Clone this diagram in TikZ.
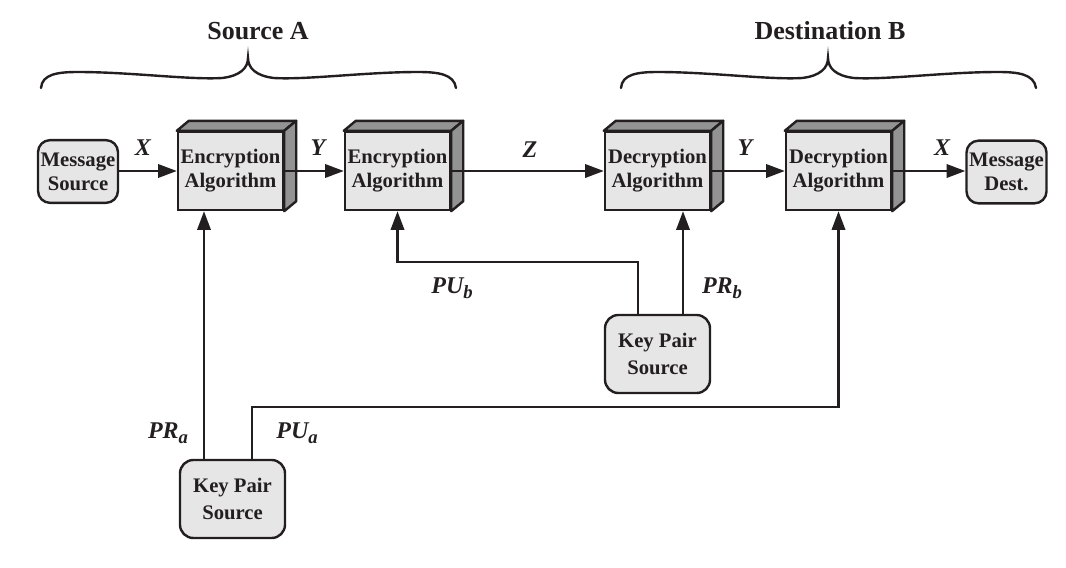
\documentclass[tikz,border=0pt]{standalone}
\usepackage{fontspec}
\setmainfont{Liberation Serif}
\usetikzlibrary{arrows.meta,calc}
\definecolor{frontgray}{HTML}{E6E6E6}
\definecolor{sidegray}{HTML}{939393}
\definecolor{ink}{HTML}{231F20}
\newcommand\subx[1]{\raisebox{-0.45ex}{\fontsize{14}{14}\selectfont #1}}
\tikzset{
  algbox/.style={draw=ink, line width=1.8pt, fill=frontgray, minimum width=78.75pt, minimum height=58.5pt, inner sep=0pt, align=center, font=\fontsize{15.5}{18}\selectfont\bfseries, text=ink},
  srcbox/.style={draw=ink, line width=1.8pt, fill=frontgray, rounded corners=9pt, minimum width=60pt, minimum height=47pt, inner sep=0pt, align=center, font=\fontsize{15.5}{18}\selectfont\bfseries, text=ink},
  keybox/.style={draw=ink, line width=1.8pt, fill=frontgray, rounded corners=10pt, minimum width=78.75pt, minimum height=58.5pt, inner sep=0pt, align=center, font=\fontsize{15.5}{20}\selectfont\bfseries, text=ink},
  face/.style={draw=ink, line width=1.8pt, fill=sidegray, line join=round},
  arr/.style={draw=ink, line width=1.8pt, -{Triangle[length=14pt,width=10pt]}},
  lbl/.style={font=\fontsize{18}{20}\selectfont\bfseries\itshape, text=ink, inner sep=0pt},
  ttl/.style={font=\fontsize{19.5}{22}\selectfont\bfseries, text=ink, inner sep=0pt},
  brace/.style={draw=ink, line width=1.8pt, line cap=round}
}
\newcommand\cubefaces[1]{%
  \path[face] (#1.north west) -- ++(12,-10) -- ($(#1.north east)+(12,-10)$) -- (#1.north east) -- cycle;
  \path[face] (#1.north east) -- ++(12,-10) -- ($(#1.south east)+(12,-10)$) -- (#1.south east) -- cycle;
}
\newcommand\bracepath[1]{%
  \draw[brace,shift={(#1,0)}] (41,88) .. controls (42,74) and (58,72) .. (78,72)
    .. controls (130,72) and (190,80) .. (222,78)
    .. controls (240,76) and (248,68) .. (248,58)
    .. controls (248,68) and (256,76) .. (274,78)
    .. controls (306,80) and (366,72) .. (418,72)
    .. controls (438,72) and (454,74) .. (456,88);
}
\begin{document}
\begin{tikzpicture}[x=0.75pt,y=-0.75pt]
\useasboundingbox (0,0) rectangle (1066,567);

% titles and braces
\node[ttl] (tA) at (258,31) {Source A};
\node[ttl] (tB) at (830,31) {Destination B};
\bracepath{0}
\bracepath{580}

% nodes
\node[srcbox] (msrc) at (78,171.5) {Message\\Source};
\node[algbox] (enc1) at (230.5,171) {Encryption\\Algorithm};
\node[algbox] (enc2) at (397.5,171) {Encryption\\Algorithm};
\node[algbox] (dec1) at (657.5,171) {Decryption\\Algorithm};
\node[algbox] (dec2) at (838.5,171) {Decryption\\Algorithm};
\node[srcbox] (mdst) at (1006.5,172) {Message\\Dest.};
\node[keybox] (kpa) at (232.5,499) {Key Pair\\Source};
\node[keybox] (kpb) at (657.5,354) {Key Pair\\Source};

\cubefaces{enc1}
\cubefaces{enc2}
\cubefaces{dec1}
\cubefaces{dec2}

% horizontal arrows
\draw[arr] (msrc.east |- enc1.west) -- (enc1.west);
\draw[arr] (enc1.east) -- (enc2.west);
\draw[arr] (enc2.east) -- (dec1.west);
\draw[arr] (dec1.east) -- (dec2.west);
\draw[arr] (dec2.east) -- (mdst.west |- dec2.east);

% key connectors
\coordinate (pua) at (838.5,407);
\coordinate (pub) at (397.5,262);
\draw[arr] (kpa.north -| 204,0) -- (enc1.south -| 204,0);
\draw[arr] (kpa.north -| 252,0) |- (pua) -- (dec2.south);
\draw[arr] (kpb.north -| 638,0) |- (pub) -- (enc2.south);
\draw[arr] (kpb.north -| 683,0) -- (dec1.south -| 683,0);

% labels
\node[lbl] (lx1) at (143,148) {X};
\node[lbl] (ly1) at (318,148) {Y};
\node[lbl] (lz) at (530,150) {Z};
\node[lbl] (ly2) at (745,148) {Y};
\node[lbl] (lx2) at (942,148) {X};
\node[lbl] (lpra) at (168,433) {PR\subx{a}};
\node[lbl] (lpua) at (297,433) {PU\subx{a}};
\node[lbl] (lpub) at (452,288) {PU\subx{b}};
\node[lbl] (lprb) at (722,288) {PR\subx{b}};
\end{tikzpicture}
\end{document}
